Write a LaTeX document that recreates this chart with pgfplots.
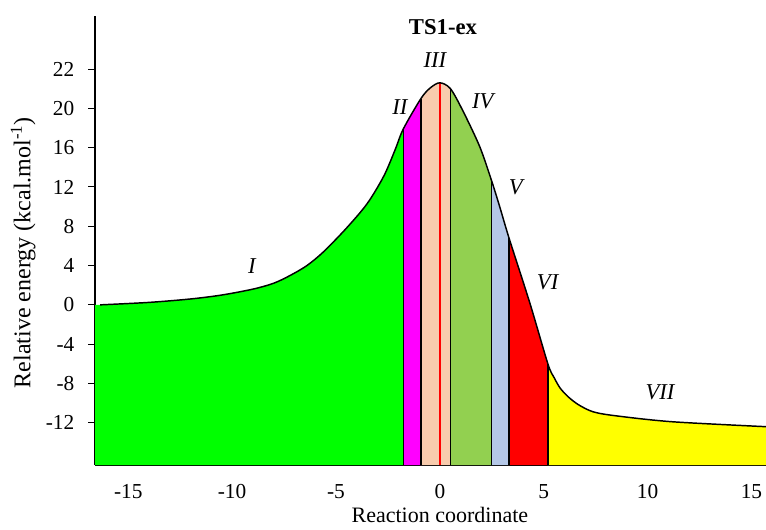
\documentclass[border=0pt]{standalone}
\usepackage{fontspec}
\setmainfont{Liberation Serif}
\usepackage{pgfplots}
\pgfplotsset{compat=1.18}
\usepgfplotslibrary{fillbetween}
\definecolor{cI}{RGB}{0,255,0}
\definecolor{cII}{RGB}{255,0,255}
\definecolor{cIII}{RGB}{248,203,173}
\definecolor{cIV}{RGB}{146,208,80}
\definecolor{cV}{RGB}{180,199,231}
\definecolor{cVI}{RGB}{255,0,0}
\definecolor{cVII}{RGB}{255,255,0}
\begin{document}
\begin{tikzpicture}
\begin{axis}[
  scale only axis,
  width=503.25pt, height=336.75pt,
  xmin=-16.6, xmax=15.7, ymin=-16.3, ymax=29.4,
  axis lines=left,
  axis line style={-, line width=1pt, black},
  xtick={-15,-10,-5,0,5,10,15},
  xticklabels={-15,-10,-5,0,5,10,15},
  ytick={-12,-8,-4,0,4,8,12,16,20,24},
  yticklabels={-12,-8,-4,0,4,8,12,16,20,22},
  /pgf/number format/assume math mode=true,
  xtick style={draw=none},
  ytick style={line width=0.8pt, black},
  tick align=outside,
  major tick length=5pt,
  ticklabel style={font=\fontsize{16}{18}\selectfont},
  yticklabel style={xshift=-7pt},
  xticklabel style={yshift=-6pt},
  xlabel={Reaction coordinate},
  ylabel={Relative energy (kcal.mol\textsuperscript{-1})},
  xlabel style={font=\fontsize{16.5}{18}\selectfont, at={(axis description cs:0.514,-0.111)}, anchor=center},
  ylabel style={font=\fontsize{18}{20}\selectfont, at={(axis description cs:-0.107,0.473)}, anchor=center},
  clip=true,
]
\addplot[draw=none, name path=curve, smooth, tension=0.5] coordinates {
(-16.6,0.0) (-16.35,0.0) (-14,0.25) (-12,0.6) (-10.5,1.0) (-9,1.6) (-8,2.2)
(-7.2,3.0) (-6.4,4.0) (-5.6,5.4) (-4.5,7.8) (-3.5,10.3) (-2.7,13.1) (-2.15,15.8) (-1.76,17.9)
(-0.91,21.0) (-0.45,22.1) (0,22.6) (0.51,22.0) (1.12,19.7) (1.92,16.1) (2.48,12.7)
(2.88,10.0) (3.33,6.8) (4.33,0.2) (5.2,-6.0) (5.5,-7.4) (5.8,-8.5) (6.2,-9.4)
(6.7,-10.2) (7.4,-10.9) (8.5,-11.3) (11.2,-11.9) (15.7,-12.4)};
\addplot[draw=none, name path=bottom] coordinates {(-16.6,-16.3) (15.7,-16.3)};
\addplot[cI] fill between[of=curve and bottom, soft clip={domain=-16.6:-1.76}];
\addplot[cII] fill between[of=curve and bottom, soft clip={domain=-1.76:-0.91}];
\addplot[cIII] fill between[of=curve and bottom, soft clip={domain=-0.91:0.51}];
\addplot[cIV] fill between[of=curve and bottom, soft clip={domain=0.51:2.48}];
\addplot[cV] fill between[of=curve and bottom, soft clip={domain=2.48:3.33}];
\addplot[cVI] fill between[of=curve and bottom, soft clip={domain=3.33:5.2}];
\addplot[cVII] fill between[of=curve and bottom, soft clip={domain=5.2:15.7}];
% boundaries
\addplot[black, line width=1.1pt] coordinates {(-1.76,-16.3) (-1.76,17.9)};
\addplot[black, line width=1.1pt] coordinates {(-0.91,-16.3) (-0.91,21.0)};
\addplot[black, line width=1.1pt] coordinates {(0.51,-16.3) (0.51,22.0)};
\addplot[black, line width=1.1pt] coordinates {(2.48,-16.3) (2.48,12.7)};
\addplot[black, line width=1.1pt] coordinates {(3.33,-16.3) (3.33,6.8)};
\addplot[black, line width=1.1pt] coordinates {(5.2,-16.3) (5.2,-6.0)};
\addplot[red, line width=1pt] coordinates {(0,-16.3) (0,22.6)};
% curve
\addplot[black, line width=1.1pt, smooth, tension=0.5] coordinates {
(-16.35,0.0) (-14,0.25) (-12,0.6) (-10.5,1.0) (-9,1.6) (-8,2.2)
(-7.2,3.0) (-6.4,4.0) (-5.6,5.4) (-4.5,7.8) (-3.5,10.3) (-2.7,13.1) (-2.15,15.8) (-1.76,17.9)
(-0.91,21.0) (-0.45,22.1) (0,22.6) (0.51,22.0) (1.12,19.7) (1.92,16.1) (2.48,12.7)
(2.88,10.0) (3.33,6.8) (4.33,0.2) (5.2,-6.0) (5.5,-7.4) (5.8,-8.5) (6.2,-9.4)
(6.7,-10.2) (7.4,-10.9) (8.5,-11.3) (11.2,-11.9) (15.7,-12.4)};
% labels
\node[font=\fontsize{17}{19}\selectfont\bfseries] at (axis cs:0.15,28.3) {TS1-ex};
\node[font=\fontsize{17}{19}\selectfont\itshape] at (axis cs:-9.05,3.9) {I};
\node[font=\fontsize{17}{19}\selectfont\itshape] at (axis cs:-1.92,20.1) {II};
\node[font=\fontsize{17}{19}\selectfont\itshape] at (axis cs:-0.24,24.9) {III};
\node[font=\fontsize{17}{19}\selectfont\itshape] at (axis cs:2.07,20.7) {IV};
\node[font=\fontsize{17}{19}\selectfont\itshape] at (axis cs:3.65,12.0) {V};
\node[font=\fontsize{17}{19}\selectfont\itshape] at (axis cs:5.19,2.3) {VI};
\node[font=\fontsize{17}{19}\selectfont\itshape] at (axis cs:10.6,-8.9) {VII};
\end{axis}
\pgfresetboundingbox
\path ([xshift=-71.25pt,yshift=-48pt]current axis.south west) rectangle ([yshift=12pt]current axis.north east);
\end{tikzpicture}
\end{document}
